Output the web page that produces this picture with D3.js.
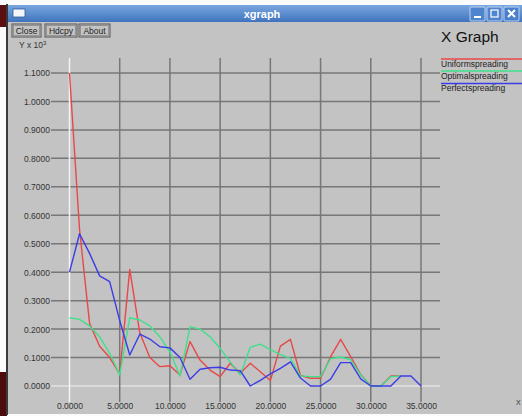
<!DOCTYPE html>
<html><head><meta charset="utf-8">
<script src="https://cdn.jsdelivr.net/npm/d3@7"></script>
<style>
html,body{margin:0;padding:0;background:#fff;}
svg{display:block;}
text{font-family:"Liberation Sans",Arial,sans-serif;}
</style></head>
<body>
<svg id="c" width="522" height="416"></svg>
<script>
const xValues = [0,1,2,3,4,5,6,7,8,9,10,11,12,13,14,15,16,17,18,19,20,21,22,23,24,25,26,27,28,29,30,31,32,33,34,35];
const uniformSpreading = [1.10,0.55,0.22,0.14,0.10,0.042,0.41,0.187,0.10,0.068,0.071,0.039,0.156,0.091,0.056,0.033,0.08,0.045,0.08,0.05,0.019,0.14,0.164,0.037,0.027,0.027,0.103,0.164,0.103,0.04,0,0,0.035,0.035];
const optimalSpreading = [0.24,0.234,0.211,0.173,0.115,0.039,0.24,0.232,0.211,0.173,0.12,0.035,0.208,0.2,0.173,0.132,0.085,0.039,0.136,0.147,0.128,0.11,0.097,0.035,0.033,0.033,0.096,0.102,0.092,0.039,0,0,0.033,0.035];
const perfectSpreading = [0.40,0.535,0.466,0.387,0.367,0.23,0.109,0.182,0.165,0.138,0.134,0.1,0.024,0.059,0.064,0.066,0.056,0.054,0.0,0.02,0.043,0.062,0.085,0.028,0,0,0.024,0.082,0.082,0.025,0,0,0,0.035,0.035,0];
const seriesNames = ["Uniformspreading","Optimalspreading","Perfectspreading"];
const seriesColors = ["#e84848","#3ee08a","#3c3ce6"];
const xTicks = [0,5,10,15,20,25,30,35];
const yTicks = [0,0.1,0.2,0.3,0.4,0.5,0.6,0.7,0.8,0.9,1.0,1.1];

const svg = d3.select("#c");
// window frame
svg.append("rect").attr("x",0).attr("y",0).attr("width",522).attr("height",416).attr("fill","#fbfbfb");
svg.append("rect").attr("x",0).attr("y",5).attr("width",7).attr("height",22).attr("fill","#5a1010");
svg.append("rect").attr("x",0).attr("y",372).attr("width",7).attr("height",44).attr("fill","#4a0c0c");
svg.append("rect").attr("x",6).attr("y",4).attr("width",2).attr("height",411).attr("fill","#3a3a3a");
svg.append("rect").attr("x",8).attr("y",22).attr("width",514).attr("height",392).attr("fill","#c3c3c3");
// title bar
const defs = svg.append("defs");
const g1 = defs.append("linearGradient").attr("id","tb").attr("x1",0).attr("y1",0).attr("x2",0).attr("y2",1);
g1.append("stop").attr("offset","0").attr("stop-color","#79a7e0");
g1.append("stop").attr("offset","1").attr("stop-color","#3f73bd");
svg.append("rect").attr("x",8).attr("y",5).attr("width",514).attr("height",17).attr("fill","url(#tb)");
svg.append("rect").attr("x",13).attr("y",9).attr("width",12).attr("height",8).attr("fill","#f4f6fa").attr("stroke","#2d5a9a").attr("stroke-width",0.8);
svg.append("text").attr("x",262).attr("y",17.5).attr("text-anchor","middle").attr("fill","#ffffff")
  .attr("font-size",11).attr("font-weight","bold").text("xgraph");
[470,487,504].forEach((bx,i)=>{
  svg.append("rect").attr("x",bx).attr("y",7).attr("width",15).attr("height",14).attr("rx",1)
    .attr("fill", i===2 ? "#4a7fcc" : "#4f84cf").attr("stroke","#dbe6f5").attr("stroke-width",0.8);
});
svg.append("rect").attr("x",474).attr("y",16).attr("width",7).attr("height",2).attr("fill","#fff");
svg.append("rect").attr("x",491).attr("y",10).attr("width",7).attr("height",7).attr("fill","none").attr("stroke","#fff").attr("stroke-width",1.2);
svg.append("path").attr("d","M508,10 L515,17 M515,10 L508,17").attr("stroke","#fff").attr("stroke-width",2);

// buttons
const btns = [["Close",12,29],["Hdcpy",45,32],["About",79,31]];
btns.forEach(b=>{
  svg.append("rect").attr("x",b[1]).attr("y",24).attr("width",b[2]).attr("height",13)
    .attr("fill","#c3c3c3").attr("stroke","#555").attr("stroke-width",1);
  svg.append("rect").attr("x",b[1]+1.5).attr("y",25.5).attr("width",b[2]-3).attr("height",10)
    .attr("fill","none").attr("stroke","#888").attr("stroke-width",0.8);
  svg.append("text").attr("x",b[1]+b[2]/2).attr("y",34).attr("text-anchor","middle")
    .attr("font-size",8.5).attr("fill","#222").text(b[0]);
});

// y label
const yl = svg.append("text").attr("x",19).attr("y",48).attr("font-size",8.5).attr("fill","#333");
yl.append("tspan").text("Y x 10");
yl.append("tspan").attr("dy",-3).attr("font-size",6).text("3");

// title
svg.append("text").attr("x",441).attr("y",41.5).attr("font-size",15.5).attr("fill","#111").text("X Graph");

// scales
const x = d3.scaleLinear().domain([0,35]).range([69.5,421]);
const y = d3.scaleLinear().domain([0,1.1]).range([386,73]);

// grid
const grid = svg.append("g");
yTicks.forEach(t=>{
  grid.append("line").attr("x1",51).attr("x2",440).attr("y1",y(t)).attr("y2",y(t))
    .attr("stroke", t===0 ? "#e2e2e2" : "#777").attr("stroke-width",1.5);
});
xTicks.forEach(t=>{
  grid.append("line").attr("x1",x(t)).attr("x2",x(t)).attr("y1",58).attr("y2",402)
    .attr("stroke", t===0 ? "#f4f4f4" : "#777").attr("stroke-width",1.5);
});

// axis labels via d3 axes
const yAxis = d3.axisLeft(y).tickValues(yTicks).tickSize(0).tickPadding(0).tickFormat(d3.format(".4f"));
const ya = svg.append("g").attr("transform","translate(50,0)").call(yAxis);
ya.select(".domain").remove();
ya.selectAll("text").attr("font-size",8.5).attr("fill","#333").attr("font-family","Liberation Sans, Arial, sans-serif").attr("dy","0.35em");

const xAxis = d3.axisBottom(x).tickValues(xTicks).tickSize(0).tickPadding(0).tickFormat(d3.format(".4f"));
const xa = svg.append("g").attr("transform","translate(0,403)").call(xAxis);
xa.select(".domain").remove();
xa.selectAll("text").attr("font-size",8.5).attr("fill","#333").attr("font-family","Liberation Sans, Arial, sans-serif").attr("dy","0.75em");

svg.append("text").attr("x",516).attr("y",405).attr("font-size",7).attr("fill","#333").text("X");

// data lines
const allSeries = [uniformSpreading, optimalSpreading, perfectSpreading];
const line = d3.line().x((d,i)=>x(xValues[i])).y(d=>y(d));
allSeries.forEach((s,i)=>{
  svg.append("path").datum(s).attr("d",line).attr("fill","none")
    .attr("stroke",seriesColors[i]).attr("stroke-width",1.4).attr("stroke-linejoin","round");
});

// legend
const legY = [59,71,83.5];
seriesNames.forEach((n,i)=>{
  svg.append("line").attr("x1",441).attr("x2",522).attr("y1",legY[i]).attr("y2",legY[i])
    .attr("stroke",seriesColors[i]).attr("stroke-width",1.4);
  svg.append("text").attr("x",441).attr("y",legY[i]+7.5).attr("font-size",8.5).attr("fill","#222").text(n);
});
</script>
</body></html>
